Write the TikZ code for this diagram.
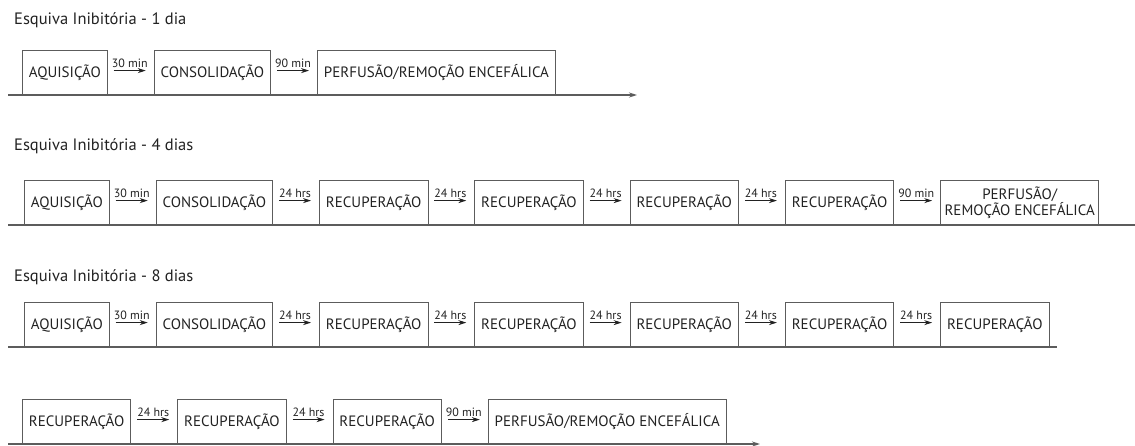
\documentclass[tikz,border=0pt]{standalone}
\usepackage{fontspec}
\setmainfont{PT Sans}
\usepackage{tikz}
\usetikzlibrary{positioning, arrows.meta}
\definecolor{boxgray}{HTML}{5C5C5C}
\definecolor{inkgray}{HTML}{222222}
\tikzstyle{stage} = [rectangle, draw=boxgray, line width=0.8pt, text=inkgray,
minimum height=44pt, inner xsep=6.5pt, font=\fontsize{15}{16.5}\selectfont]
\tikzstyle{title} = [anchor=west, text=inkgray, inner sep=0pt, font=\fontsize{16.5}{17}\selectfont]
\tikzstyle{arrow} = [inkgray, line width=0.8pt, -{Stealth[length=8pt, width=5pt]}]
\tikzstyle{gap} = [above, text=inkgray, inner sep=3pt, font=\fontsize{12}{13}\selectfont]
\tikzstyle{axis} = [boxgray, line width=1.2pt]

\begin{document}
\begin{tikzpicture}[x=1pt, y=-1pt, node distance=46pt]
        \useasboundingbox (0,0) rectangle (1135,445);
        % 1 dia
        \node (T1) [title] at (14,20) {Esquiva Inibitória - 1 dia};
        \node (Aq1) [stage, anchor=south west] at (22,95) {AQUISIÇÃO};
        \node (Co1) [stage, right=of Aq1] {CONSOLIDAÇÃO};
        \node (Pe1) [stage, right=of Co1] {PERFUSÃO/REMOÇÃO ENCEFÁLICA};
        \coordinate (S1) at (8,95);
        \coordinate (E1) at (637,95);
        \draw [axis, -{Stealth[length=8pt, width=5pt]}] (S1) -- (E1);
        \draw [arrow] ([shift={(6,-2)}]Aq1.east) -- node[gap] {30 min} ([shift={(-8,-2)}]Co1.west);
        \draw [arrow] ([shift={(6,-2)}]Co1.east) -- node[gap] {90 min} ([shift={(-8,-2)}]Pe1.west);

        % 4 dias
        \node (T2) [title] at (14,146) {Esquiva Inibitória - 4 dias};
        \node (Aq2) [stage, anchor=south west] at (24,225) {AQUISIÇÃO};
        \node (Co2) [stage, right=of Aq2] {CONSOLIDAÇÃO};
        \node (Re2a) [stage, right=of Co2] {RECUPERAÇÃO};
        \node (Re2b) [stage, right=of Re2a] {RECUPERAÇÃO};
        \node (Re2c) [stage, right=of Re2b] {RECUPERAÇÃO};
        \node (Re2d) [stage, right=of Re2c] {RECUPERAÇÃO};
        \node (Pe2) [stage, right=of Re2d, align=center, inner xsep=4pt] {PERFUSÃO/\\REMOÇÃO ENCEFÁLICA};
        \coordinate (S2) at (8,225);
        \coordinate (E2) at (1135,225);
        \draw [axis] (S2) -- (E2);
        \draw [arrow] ([shift={(6,-2)}]Aq2.east) -- node[gap] {30 min} ([shift={(-8,-2)}]Co2.west);
        \draw [arrow] ([shift={(6,-2)}]Co2.east) -- node[gap] {24 hrs} ([shift={(-8,-2)}]Re2a.west);
        \draw [arrow] ([shift={(6,-2)}]Re2a.east) -- node[gap] {24 hrs} ([shift={(-8,-2)}]Re2b.west);
        \draw [arrow] ([shift={(6,-2)}]Re2b.east) -- node[gap] {24 hrs} ([shift={(-8,-2)}]Re2c.west);
        \draw [arrow] ([shift={(6,-2)}]Re2c.east) -- node[gap] {24 hrs} ([shift={(-8,-2)}]Re2d.west);
        \draw [arrow] ([shift={(6,-2)}]Re2d.east) -- node[gap] {90 min} ([shift={(-8,-2)}]Pe2.west);

        % 8 dias
        \node (T3) [title] at (14,277) {Esquiva Inibitória - 8 dias};
        \node (Aq3) [stage, anchor=south west] at (24,347) {AQUISIÇÃO};
        \node (Co3) [stage, right=of Aq3] {CONSOLIDAÇÃO};
        \node (Re3a) [stage, right=of Co3] {RECUPERAÇÃO};
        \node (Re3b) [stage, right=of Re3a] {RECUPERAÇÃO};
        \node (Re3c) [stage, right=of Re3b] {RECUPERAÇÃO};
        \node (Re3d) [stage, right=of Re3c] {RECUPERAÇÃO};
        \node (Re3e) [stage, right=of Re3d] {RECUPERAÇÃO};
        \coordinate (S3) at (8,347);
        \coordinate (E3) at (1057,347);
        \draw [axis] (S3) -- (E3);
        \draw [arrow] ([shift={(6,-2)}]Aq3.east) -- node[gap] {30 min} ([shift={(-8,-2)}]Co3.west);
        \draw [arrow] ([shift={(6,-2)}]Co3.east) -- node[gap] {24 hrs} ([shift={(-8,-2)}]Re3a.west);
        \draw [arrow] ([shift={(6,-2)}]Re3a.east) -- node[gap] {24 hrs} ([shift={(-8,-2)}]Re3b.west);
        \draw [arrow] ([shift={(6,-2)}]Re3b.east) -- node[gap] {24 hrs} ([shift={(-8,-2)}]Re3c.west);
        \draw [arrow] ([shift={(6,-2)}]Re3c.east) -- node[gap] {24 hrs} ([shift={(-8,-2)}]Re3d.west);
        \draw [arrow] ([shift={(6,-2)}]Re3d.east) -- node[gap] {24 hrs} ([shift={(-8,-2)}]Re3e.west);

        % 8 dias (cont.)
        \node (Re4a) [stage, anchor=south west] at (22,444) {RECUPERAÇÃO};
        \node (Re4b) [stage, right=of Re4a] {RECUPERAÇÃO};
        \node (Re4c) [stage, right=of Re4b] {RECUPERAÇÃO};
        \node (Pe4) [stage, right=of Re4c] {PERFUSÃO/REMOÇÃO ENCEFÁLICA};
        \coordinate (S4) at (8,444);
        \coordinate (E4) at (760,444);
        \draw [axis, -{Stealth[length=8pt, width=5pt]}] (S4) -- (E4);
        \draw [arrow] ([shift={(6,-2)}]Re4a.east) -- node[gap] {24 hrs} ([shift={(-8,-2)}]Re4b.west);
        \draw [arrow] ([shift={(6,-2)}]Re4b.east) -- node[gap] {24 hrs} ([shift={(-8,-2)}]Re4c.west);
        \draw [arrow] ([shift={(6,-2)}]Re4c.east) -- node[gap] {90 min} ([shift={(-8,-2)}]Pe4.west);
\end{tikzpicture}
\end{document}
